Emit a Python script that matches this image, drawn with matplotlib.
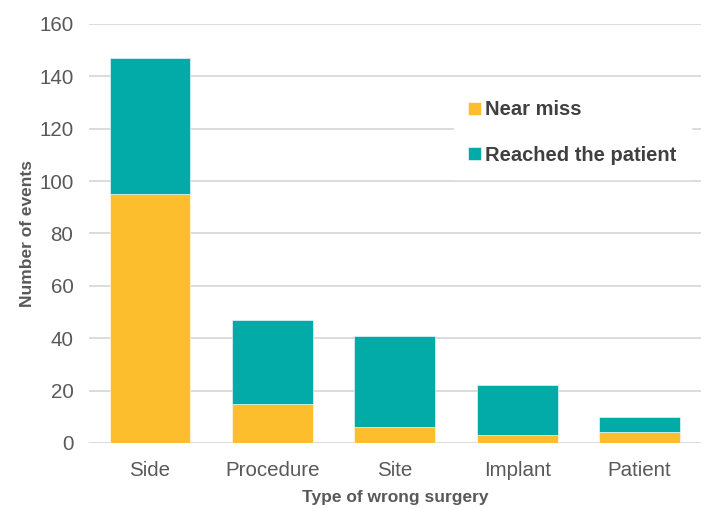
import numpy as np
import matplotlib.pyplot as plt

plt.rcParams['font.family'] = ['Liberation Sans', 'DejaVu Sans']

# Daten
categories = ["Side", "Procedure", "Site", "Implant", "Patient"]
near_miss = [95, 15, 6, 3, 4]
reached = [52, 32, 35, 19, 6]

col_near = "#FDBE2D"
col_reached = "#02AAA8"
grey = "#595959"

fig = plt.figure(figsize=(7.1, 5.08), dpi=100)
ax = fig.add_axes([0.125, 0.128, 0.862, 0.825])

x = np.arange(len(categories))
w = 0.66
ax.bar(x, near_miss, width=w, color=col_near, label="Near miss", zorder=3,
       edgecolor="white", linewidth=0.4)
ax.bar(x, reached, width=w, bottom=near_miss, color=col_reached,
       label="Reached the patient", zorder=3, edgecolor="white", linewidth=0.4)

ax.set_xlim(-0.5, len(categories) - 0.5)
ax.set_ylim(0, 160)
ax.set_yticks(range(0, 161, 20))
ax.set_xticks(x)
ax.set_xticklabels(categories)
ax.yaxis.grid(True, color="#D9D9D9", linewidth=1.3, zorder=0)
ax.set_axisbelow(True)
for s in ax.spines.values():
    s.set_visible(False)
ax.tick_params(axis="both", length=0, labelsize=14.8, labelcolor=grey)
ax.tick_params(axis="y", pad=11)
ax.tick_params(axis="x", pad=13)

ax.set_ylabel("Number of events", fontsize=12.5, fontweight="bold", color=grey)
ax.set_xlabel("Type of wrong surgery", fontsize=12.5, fontweight="bold", color=grey, labelpad=7)
ax.yaxis.set_label_coords(-0.088, 0.5)

leg = ax.legend(loc="upper right", bbox_to_anchor=(1.0, 0.875), frameon=True,
                fancybox=False, framealpha=1, edgecolor="white",
                handlelength=0.65, handleheight=0.65, handletextpad=0.2,
                labelspacing=1.3, borderpad=0.7,
                prop={"weight": "bold", "size": 14.5})
for t in leg.get_texts():
    t.set_color("#404040")

plt.savefig("out.png", dpi=100)
